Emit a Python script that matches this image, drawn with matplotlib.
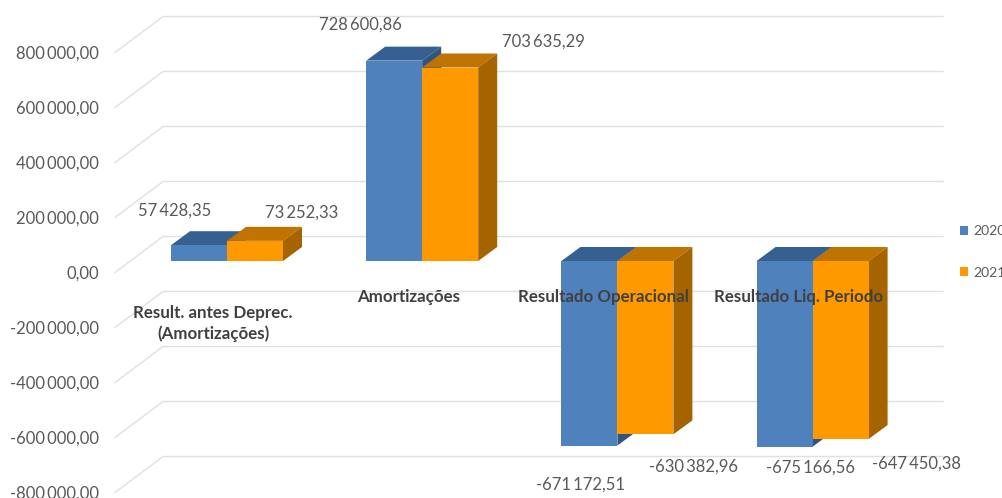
import matplotlib as mpl
mpl.use('Agg')
import matplotlib.pyplot as plt
from matplotlib.patches import Polygon, Patch

plt.rcParams['font.family'] = ['Lato', 'DejaVu Sans']

categories = ['Result. antes Deprec.\n(Amortizações)', 'Amortizações',
              'Resultado Operacional', 'Resultado Liq. Periodo']
values_2020 = [57428.35, 728600.86, -671172.51, -675166.56]
values_2021 = [73252.33, 703635.29, -630382.96, -647450.38]
grid_values = [800000, 600000, 400000, 200000, 0, -200000, -400000, -600000, -800000]

# label offsets from the bar end, in pixels
offsets_2020 = [(-24, 35), (-34, 36), (-9, -39), (26, -21)]
offsets_2021 = [(47, 28), (93, 26), (48, -32), (76, -25)]

W, H = 1002, 498
PX_X = 195.2           # pixels per category
PX_Y = 55 / 200000.0   # pixels per unit of value
ZERO_X, ZERO_Y = 227, 261
BAR_W = 56 / PX_X
DEPTH_X, DEPTH_Y = 19 / PX_X, 14 / PX_Y
WALL_X, WALL_Y = (163 - ZERO_X) / PX_X, 24.5 / PX_Y   # back wall relative to zero line
FLOOR_X, FLOOR_Y = 48 / PX_X, 36 / PX_Y               # back wall -> front edge
GRID_END = (943 - ZERO_X) / PX_X

BLUE = ('#4f81bd', '#376092', '#2f5582')
ORANGE = ('#ff9900', '#bf7300', '#a66400')


def fmt(v):
  s = f'{abs(v):,.2f}'.replace(',', '\u2009').replace('.', ',')
  return ('-' if v < 0 else '') + s


def draw_bar(ax, left, value, colors):
  front, top, side = colors
  right = left + BAR_W
  upper = max(value, 0)
  lower = min(value, 0)
  ax.add_patch(Polygon([(left, upper), (right, upper),
                        (right + DEPTH_X, upper + DEPTH_Y), (left + DEPTH_X, upper + DEPTH_Y)],
                       fc=top, ec='none'))
  ax.add_patch(Polygon([(right, upper), (right + DEPTH_X, upper + DEPTH_Y),
                        (right + DEPTH_X, lower + DEPTH_Y), (right, lower)],
                       fc=side, ec='none'))
  ax.add_patch(Polygon([(left, 0), (right, 0), (right, value), (left, value)], fc=front, ec='none'))


fig = plt.figure(figsize=(W / 100, H / 100), dpi=100)
ax = fig.add_axes([0, 0, 1, 1])
ax.set_xlim(-ZERO_X / PX_X, (W - ZERO_X) / PX_X)
ax.set_ylim((ZERO_Y - H) / PX_Y, ZERO_Y / PX_Y)
ax.axis('off')

# floor lines and back wall lines
for g in grid_values:
  by = g + WALL_Y
  ax.plot([WALL_X - FLOOR_X, WALL_X, GRID_END], [by - FLOOR_Y, by, by], color='#e0e0e0', lw=1.0, zorder=1,
          solid_joinstyle='miter')
  ax.text(WALL_X - FLOOR_X - 16 / PX_X, by - FLOOR_Y - 1 / PX_Y, fmt(g), ha='right', va='center',
          fontsize=12, color='#595959', clip_on=False)

for i in range(len(categories)):
  draw_bar(ax, i - BAR_W, values_2020[i], BLUE)
  draw_bar(ax, i, values_2021[i], ORANGE)

for i, name in enumerate(categories):
  two_lines = '\n' in name
  ax.text(i - 14 / PX_X, (ZERO_Y - 297 + (-8 if two_lines else 0)) / PX_Y, name, ha='center',
          va='top' if two_lines else 'center', fontsize=12.2, fontweight='bold', color='#404040',
          linespacing=1.3)

for i in range(len(categories)):
  ax.annotate(fmt(values_2020[i]), (i - BAR_W / 2, values_2020[i]), xytext=offsets_2020[i],
              textcoords='offset pixels', ha='center', va='center', fontsize=12, color='#595959')
  ax.annotate(fmt(values_2021[i]), (i + BAR_W / 2, values_2021[i]), xytext=offsets_2021[i],
              textcoords='offset pixels', ha='center', va='center', fontsize=12, color='#595959')

handles = [Patch(fc=BLUE[0], label='2020'), Patch(fc=ORANGE[0], label='2021')]
ax.legend(handles=handles, loc='center left', bbox_to_anchor=(953 / W, 1 - 252 / H), frameon=False,
          fontsize=10, labelcolor='#595959', handlelength=0.55, handleheight=0.55, handletextpad=0.4,
          labelspacing=2.1, borderpad=0, borderaxespad=0.5)

fig.savefig('out.png', dpi=100)
